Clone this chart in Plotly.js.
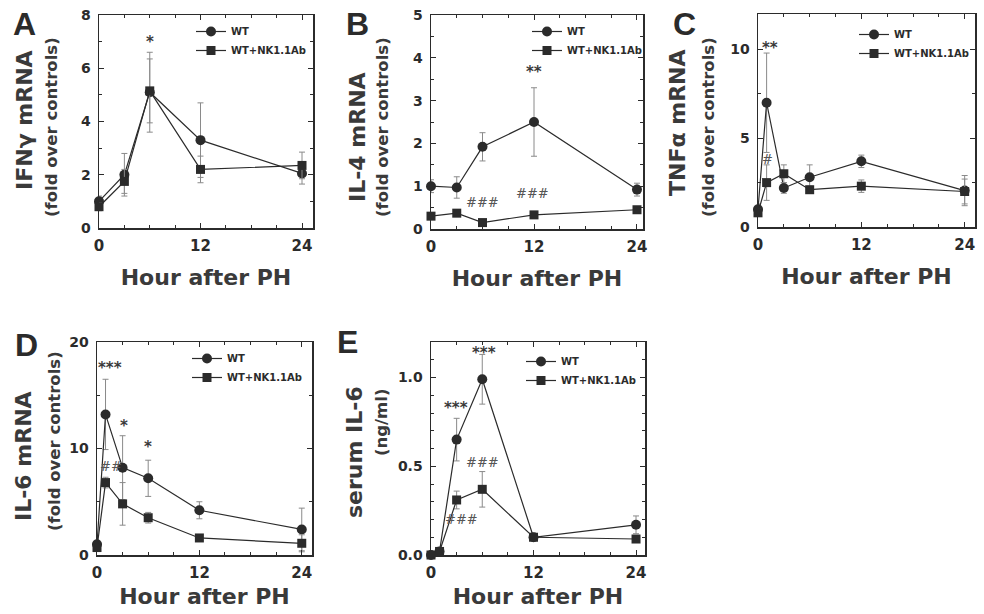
<!DOCTYPE html>
<html>
<head>
<meta charset="utf-8">
<script src="https://cdn.plot.ly/plotly-3.0.1.min.js"></script>
<style>html,body{margin:0;padding:0;background:#fff;}</style>
</head>
<body>
<div id="chart" style="width:984px;height:614px;"></div>
<script>
// ---------- DATA ----------
const hoursAB = [0, 3, 6, 12, 24];
const hoursCDE = [0, 1, 3, 6, 12, 24];
const seriesNames = ["WT", "WT+NK1.1Ab"];

// A: IFNγ mRNA
const ifnWT = [1.0, 2.0, 5.1, 3.3, 2.05];
const ifnWTerr = [0.2, 0.8, 1.5, 1.4, 0.4];
const ifnNK = [0.8, 1.75, 5.15, 2.2, 2.35];
const ifnNKerr = [0.15, 0.45, 1.2, 0.5, 0.5];

// B: IL-4 mRNA
const il4WT = [1.0, 0.97, 1.92, 2.5, 0.92];
const il4WTerr = [0.15, 0.25, 0.33, 0.8, 0.15];
const il4NK = [0.3, 0.37, 0.15, 0.33, 0.45];
const il4NKerr = [0.05, 0.05, 0.05, 0.05, 0.05];

// C: TNFα mRNA
const tnfWT = [1.0, 7.0, 2.2, 2.8, 3.7, 2.05];
const tnfWTerr = [0.3, 2.8, 0.3, 0.7, 0.35, 0.85];
const tnfNK = [0.8, 2.5, 3.0, 2.1, 2.3, 2.0];
const tnfNKerr = [0.2, 1.0, 0.5, 0.2, 0.35, 0.7];

// D: IL-6 mRNA
const il6WT = [1.0, 13.2, 8.2, 7.2, 4.2, 2.4];
const il6WTerr = [0.3, 3.3, 3.0, 1.7, 0.8, 2.0];
const il6NK = [0.7, 6.8, 4.8, 3.5, 1.6, 1.1];
const il6NKerr = [0.2, 0.5, 2.0, 0.5, 0.2, 0.8];

// E: serum IL-6 (ng/ml)
const serWT = [0.0, 0.02, 0.65, 0.99, 0.1, 0.17];
const serWTerr = [0, 0.01, 0.12, 0.14, 0.01, 0.05];
const serNK = [0.0, 0.02, 0.31, 0.37, 0.1, 0.09];
const serNKerr = [0, 0.01, 0.05, 0.1, 0.01, 0.01];

// significance marks: [panel, x, y, text]
const sigMarks = [
  ["A", 6, 7.0, "*"],
  ["B", 12, 3.67, "**"],
  ["B", 6, 0.63, "###"],
  ["B", 11.8, 0.84, "###"],
  ["C", 1.4, 10.1, "**"],
  ["C", 1.05, 3.8, "#"],
  ["D", 1.5, 17.6, "***"],
  ["D", 3.2, 12.1, "*"],
  ["D", 6.0, 10.1, "*"],
  ["D", 1.6, 8.3, "##"],
  ["E", 6.2, 1.14, "***"],
  ["E", 2.9, 0.83, "***"],
  ["E", 6.0, 0.52, "###"],
  ["E", 3.6, 0.2, "###"]
];

// ---------- LAYOUT HELPERS ----------
const W = 984, H = 614;
const FONT = "DejaVu Sans, Liberation Sans, Arial, sans-serif";
const INK = "#2b2b2b";

const panels = [
  {id:"A", ax:"", box:[99,313,15,228], xr:[0,25.3], yr:[0,8], dt:2, mdt:1, fmt:"", x:hoursAB, wt:ifnWT, wte:ifnWTerr, nk:ifnNK, nke:ifnNKerr,
   t1:"IFNγ mRNA", t2:"(fold over controls)", t1x:25, t1y:120, t2x:52, t2y:127, letter:[24,24], leg:[191,17], xtS:16},
  {id:"B", ax:"2", box:[431,643,15,229], xr:[0,24.7], yr:[0,5], dt:1, mdt:0.5, fmt:"", x:hoursAB, wt:il4WT, wte:il4WTerr, nk:il4NK, nke:il4NKerr,
   t1:"IL-4 mRNA", t2:"(fold over controls)", t1x:357, t1y:137, t2x:383, t2y:127, letter:[357,24], leg:[527,17], xtS:16},
  {id:"C", ax:"3", box:[758,975,14,227], xr:[0,25.2], yr:[0,12], dt:5, mdt:2.5, fmt:"", x:hoursCDE, wt:tnfWT, wte:tnfWTerr, nk:tnfNK, nke:tnfNKerr,
   t1:"TNFα mRNA", t2:"(fold over controls)", t1x:678, t1y:123, t2x:709, t2y:127, letter:[684,24], leg:[854,20], xtS:16},
  {id:"D", ax:"4", box:[97,312,342,555], xr:[0,25.2], yr:[0,20], dt:10, mdt:5, fmt:"", x:hoursCDE, wt:il6WT, wte:il6WTerr, nk:il6NK, nke:il6NKerr,
   t1:"IL-6 mRNA", t2:"(fold over controls)", t1x:23, t1y:456, t2x:54, t2y:441, letter:[26,345], leg:[187,344], xtS:8},
  {id:"E", ax:"5", box:[431,645,342,555], xr:[0,25.05], yr:[0,1.2], dt:0.5, mdt:0.1, fmt:".1f", x:hoursCDE, wt:serWT, wte:serWTerr, nk:serNK, nke:serNKerr,
   t1:"serum IL-6", t2:"(ng/ml)", t1x:354, t1y:452, t2x:381, t2y:422, letter:[347,342], leg:[521,347], xtS:8}
];

const traces = [];
const layout = {
  width: W, height: H,
  margin: {l:0, r:0, t:0, b:0, pad:0},
  paper_bgcolor: "#ffffff",
  plot_bgcolor: "#ffffff",
  showlegend: true,
  font: {family: FONT, color: INK},
  annotations: []
};

panels.forEach((p, i) => {
  const xa = "x" + p.ax, ya = "y" + p.ax;
  const xkey = "xaxis" + p.ax, ykey = "yaxis" + p.ax;
  const legKey = i === 0 ? "legend" : "legend" + (i + 1);
  const [l, r, t, b] = p.box;

  traces.push({
    type: "scatter", mode: "lines+markers", name: seriesNames[0],
    x: p.x, y: p.wt, xaxis: xa, yaxis: ya, legend: legKey, cliponaxis: false,
    line: {color: INK, width: 1.2},
    marker: {symbol: "circle", size: 10, color: INK},
    error_y: {type: "data", array: p.wte, visible: true, color: "#8a8a8a", thickness: 1, width: 3}
  });
  traces.push({
    type: "scatter", mode: "lines+markers", name: seriesNames[1],
    x: p.x, y: p.nk, xaxis: xa, yaxis: ya, legend: legKey, cliponaxis: false,
    line: {color: INK, width: 1.2},
    marker: {symbol: "square", size: 9, color: INK},
    error_y: {type: "data", array: p.nke, visible: true, color: "#8a8a8a", thickness: 1, width: 3}
  });

  layout[xkey] = {
    domain: [l / W, r / W], anchor: ya, range: p.xr,
    tickmode: "array", tickvals: [0, 12, 24], ticktext: ["0", "12", "24"],
    ticks: "inside", ticklen: 5, tickwidth: 1, tickcolor: INK,
    minor: {tickmode: "linear", tick0: 0, dtick: 3, ticks: "inside", ticklen: 3, tickcolor: INK},
    showline: true, linecolor: INK, linewidth: 1.5, mirror: "ticks",
    showgrid: false, zeroline: false,
    tickfont: {family: FONT, size: 15, color: INK, weight: "bold"},
    ticklabelstandoff: 3,
    automargin: false,
    title: {text: "Hour after PH", font: {family: FONT, size: 22, color: "#3a3a3a", weight: "bold"}, standoff: p.xtS}
  };
  layout[ykey] = {
    domain: [1 - b / H, 1 - t / H], anchor: xa, range: p.yr,
    tickmode: "linear", tick0: 0, dtick: p.dt, tickformat: p.fmt,
    ticks: "inside", ticklen: 5, tickwidth: 1, tickcolor: INK,
    minor: {tickmode: "linear", tick0: 0, dtick: p.mdt, ticks: "inside", ticklen: 3, tickcolor: INK},
    showline: true, linecolor: INK, linewidth: 1.5, mirror: "ticks",
    showgrid: false, zeroline: false,
    tickfont: {family: FONT, size: 14, color: INK, weight: "bold"},
    ticklabelstandoff: 4,
    automargin: false
  };
  layout[legKey] = {
    x: p.leg[0] / W, y: 1 - p.leg[1] / H, xanchor: "left", yanchor: "top",
    bgcolor: "rgba(0,0,0,0)", borderwidth: 0,
    font: {family: FONT, size: 10, color: INK, weight: "bold"},
    tracegroupgap: 0, itemwidth: 30
  };

  // y titles (two lines, rotated)
  layout.annotations.push({
    xref: "paper", yref: "paper", x: p.t1x / W, y: 1 - p.t1y / H,
    text: p.t1, textangle: -90, showarrow: false, xanchor: "center", yanchor: "middle",
    font: {family: FONT, size: 22, color: "#3a3a3a", weight: "bold"}
  });
  layout.annotations.push({
    xref: "paper", yref: "paper", x: p.t2x / W, y: 1 - p.t2y / H,
    text: p.t2, textangle: -90, showarrow: false, xanchor: "center", yanchor: "middle",
    font: {family: FONT, size: 16.5, color: "#3a3a3a", weight: "bold"}
  });
  // panel letter
  layout.annotations.push({
    xref: "paper", yref: "paper", x: p.letter[0] / W, y: 1 - p.letter[1] / H,
    text: p.id, showarrow: false, xanchor: "center", yanchor: "middle",
    font: {family: "Liberation Sans, Arial, sans-serif", size: 32, color: "#2b2b2b", weight: "bold"}
  });
});

sigMarks.forEach(m => {
  const p = panels.find(q => q.id === m[0]);
  const isHash = m[3].indexOf("#") >= 0;
  layout.annotations.push({
    xref: "x" + p.ax, yref: "y" + p.ax, x: m[1], y: m[2], text: m[3],
    showarrow: false, xanchor: "center", yanchor: "middle",
    font: isHash ? {family: "DejaVu Serif, serif", size: 13, color: "#555555"}
                 : {family: FONT, size: 15, color: "#3a3a3a", weight: "bold"}
  });
});

Plotly.newPlot("chart", traces, layout, {displayModeBar: false, staticPlot: true});
</script>
</body>
</html>
